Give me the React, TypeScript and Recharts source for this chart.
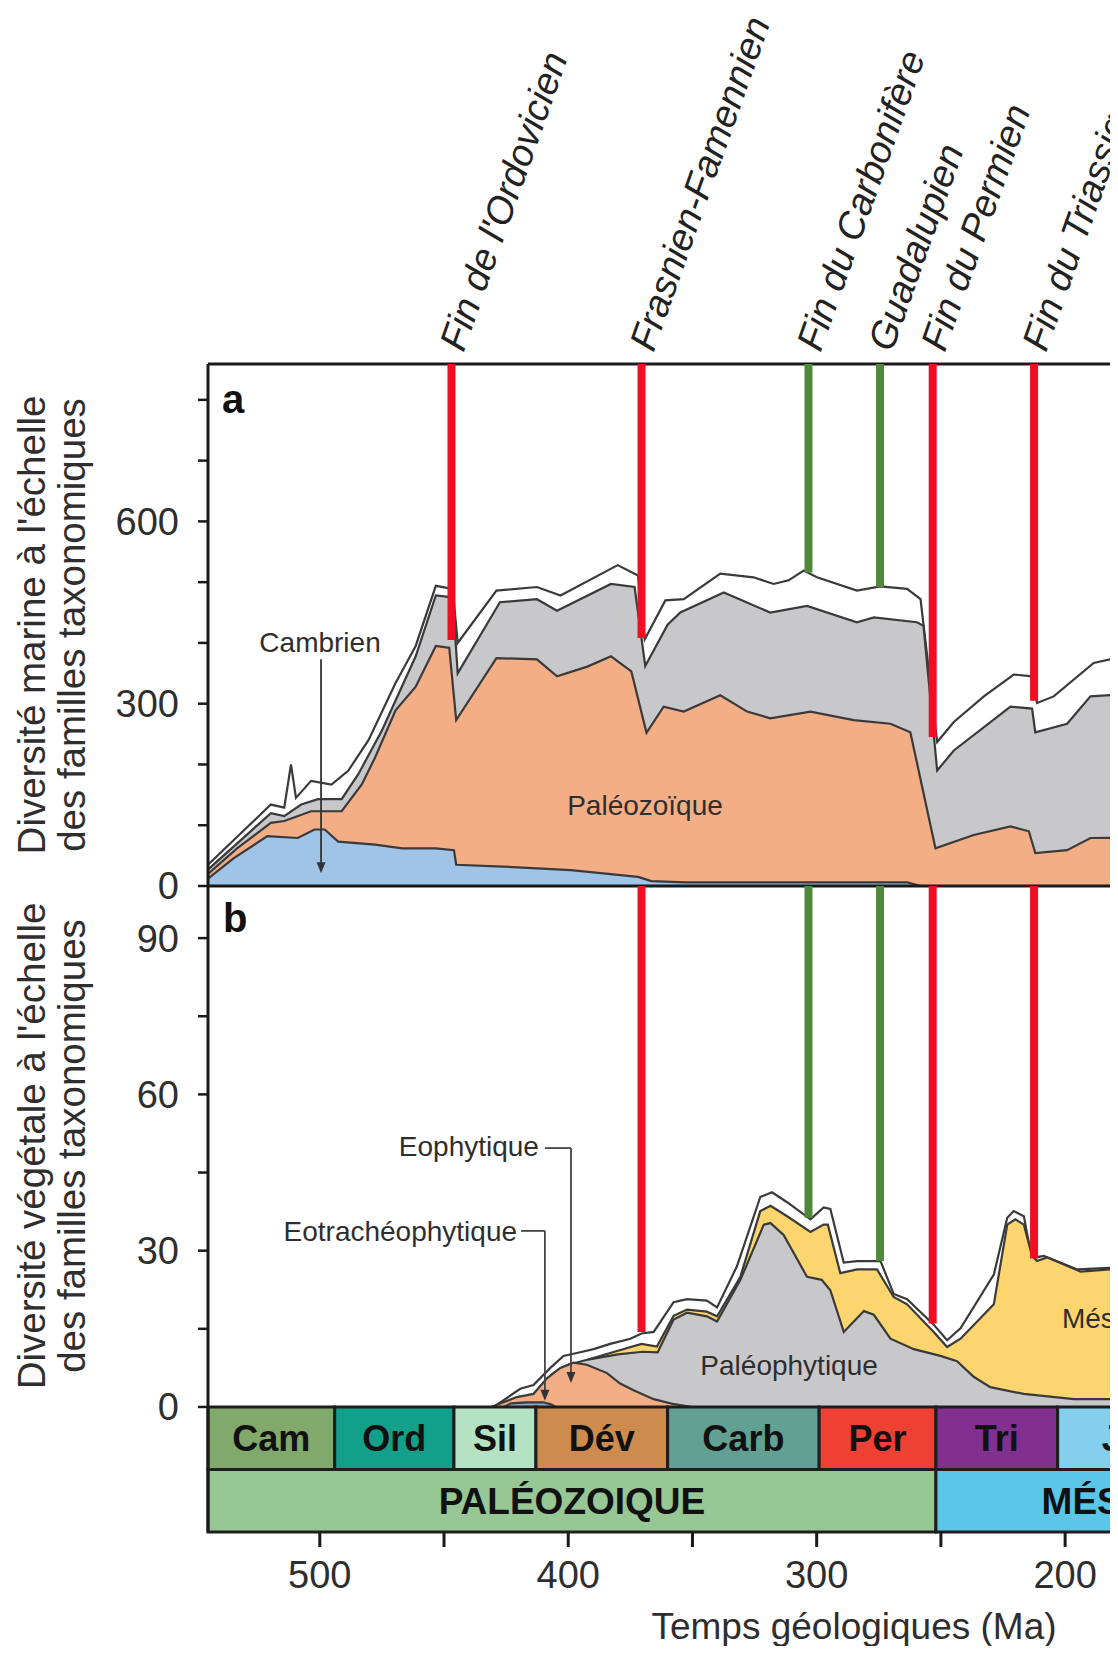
import React from 'react';
import {
  ComposedChart,
  Area,
  XAxis,
  YAxis,
  ReferenceLine,
  ReferenceArea,
  ReferenceDot,
} from 'recharts';

const FONT = '"Liberation Sans", Arial, Helvetica, sans-serif';
const RED = '#f20d22';
const GREEN = '#4f8a3b';
const OUTLINE = '#3a3a3a';
const TEXT = '#2e2e2e';

// ages in Ma, values = cumulative number of families (top of each layer)
const marineTotal = [
  [545, 35], [519.7, 134], [514.3, 129], [511.6, 200], [509.6, 145], [503.5, 173], [495.3, 167],
  [488.5, 190], [480.4, 240], [469.5, 334], [461.4, 395], [453.3, 494], [446.5, 489], [444.5, 400],
  [428.9, 486], [412.6, 492], [403.1, 478], [380.1, 528], [371.9, 511], [369.2, 406], [360.9, 470],
  [353.5, 472], [338.8, 514], [325.4, 508], [317.3, 497], [311.3, 503], [305.2, 519], [299.9, 508],
  [283.8, 486], [274.4, 493], [263.6, 489], [258.2, 472], [251.5, 237], [244.8, 270], [232.7, 312],
  [220.7, 348], [213.3, 345], [211.3, 301], [204.6, 312], [188.5, 367], [181.7, 373], [165, 380],
];
const marineModern = [
  [545, 27], [519.7, 120], [514.3, 115], [507.5, 134], [500.7, 143], [491.2, 143], [484.5, 184],
  [475, 256], [461.4, 378], [453.3, 478], [446.5, 475], [444.5, 350], [427.5, 467], [412.6, 472],
  [404.5, 453], [382.8, 497], [373.3, 492], [369, 362], [360, 430], [354.9, 450], [337.4, 483],
  [318.7, 450], [303.9, 461], [283.8, 434], [277, 442], [259.6, 434], [257, 428], [251.5, 190],
  [244.8, 223], [222, 295], [213.3, 292], [212, 253], [199.2, 267], [189.8, 312], [181.7, 314],
  [165, 318],
];
const marinePaleozoic = [
  [545, 20], [533.3, 62], [519.7, 104], [514.3, 107], [503.5, 123], [491.2, 123], [483.1, 167],
  [477.7, 212], [469.5, 289], [461.4, 328], [453.3, 395], [447.9, 392], [445.1, 273], [428.9, 375],
  [412.6, 373], [404.5, 345], [392.3, 361], [382.8, 378], [374.6, 353], [368.5, 252], [361.6, 295],
  [353.5, 287], [338.8, 314], [328, 287], [318.7, 276], [302.5, 287], [285.1, 273], [270.3, 267],
  [262.3, 253], [252.2, 62], [236.8, 84], [222, 98], [214.6, 90], [212, 54], [199.2, 59],
  [189.8, 79], [165, 80],
];
const marineCambrian = [
  [545, 12], [534.6, 46], [521.1, 82], [508.9, 79], [502.1, 93], [498, 93], [492.6, 73],
  [477.7, 68], [466.8, 62], [453.3, 62], [446, 59], [445.1, 35], [426.2, 32], [399, 26],
  [371.9, 15], [366.5, 8], [353, 6], [263.6, 6], [258, 0], [165, 0],
];

const plantTotal = [
  [430, 0], [419.3, 3.5], [414, 4.2], [407.2, 7.5], [401.9, 9.8], [395.2, 10.5], [389.8, 11.1],
  [383.1, 12.1], [375, 13.1], [370.5, 14.1], [365.6, 14.4], [357.6, 20.1], [352.2, 20.7],
  [344.2, 20.4], [340.1, 19.1], [332.1, 27], [322.7, 40.3], [318, 41.2], [311.9, 39.3],
  [302.5, 36], [297.2, 38.3], [294.5, 38], [289.1, 27.7], [283.7, 28], [274.3, 28], [269, 21.7],
  [263.6, 20.7], [252.9, 15.8], [247.5, 12.8], [242.1, 15.1], [228.7, 25.4], [223.3, 36.3],
  [220.7, 37.6], [216.6, 36.6], [213.9, 29.7], [211.9, 28.7], [208.6, 29], [195.1, 26.4],
  [181.7, 26.7], [165, 27],
];
const plantMeso = [
  [392, 9.1], [380, 10.8], [370.5, 12.1], [364.3, 11.6], [357.6, 17.5], [352.2, 18.7],
  [344.2, 18.3], [340.1, 17.4], [330.7, 25], [322.7, 37.6], [318.6, 38.6], [311.9, 36.6],
  [302.5, 33.6], [297.2, 35], [295.5, 35], [290.5, 25.7], [283.7, 26.4], [275.7, 26.4],
  [269, 21.1], [263.6, 19.7], [252.9, 14.4], [247.5, 11.5], [242.1, 13.1], [228.7, 19.7],
  [223.3, 35], [220, 36], [216.6, 35], [213.3, 29], [211.3, 28], [207.2, 28.7], [193.8, 26],
  [181.7, 26.4], [165, 26.8],
];
const plantPaleo = [
  [430, 0], [419, 1.5], [414, 2.5], [406, 6.5], [400, 8.1], [392, 9.1], [380, 10.1], [370, 10.6],
  [364, 10.5], [357.6, 16.8], [352.2, 18.1], [344.2, 17.4], [340.1, 16.4], [330.7, 24.4],
  [321.3, 35], [318.6, 35.3], [313.3, 33], [303.9, 25], [298, 24.4], [294.5, 22.4], [289.1, 14.4],
  [281, 18.4], [277, 17.7], [270.3, 13.1], [260.9, 11.1], [250.2, 9.8], [243.5, 8.8],
  [236.8, 5.8], [230.1, 3.8], [216.6, 2.5], [196.5, 1.5], [165, 1.5],
];
const plantEophytic = [
  [431, 0], [420.7, 1.9], [414, 2.5], [408.6, 5.5], [403.2, 7.5], [397.9, 8.5], [392.5, 8.1],
  [384.4, 6.5], [379.1, 4.5], [373.7, 3.2], [365.6, 1.5], [358, 0.6], [350, 0],
];
const plantEotrach = [
  [426, 0], [423, 0.7], [417, 0.9], [410, 0.9], [407, 0.5], [405, 0],
];

// extinction events: age, colour, where the bar meets the curves in a and b
const events = [
  { name: "Fin de l'Ordovicien", ma: 447, color: RED, endA: 405, endB: null },
  { name: 'Frasnien-Famennien', ma: 370.5, color: RED, endA: 408, endB: 14.4 },
  { name: 'Fin du Carbonifère', ma: 303.3, color: GREEN, endA: 516, endB: 36.3 },
  { name: 'Guadalupien', ma: 274.5, color: GREEN, endA: 492, endB: 28 },
  { name: 'Fin du Permien', ma: 253.3, color: RED, endA: 245, endB: 16 },
  { name: 'Fin du Triassique', ma: 212.5, color: RED, endA: 305, endB: 28.5 },
];

const periods = [
  { name: 'Cam', from: 545, to: 494, color: '#80a96b' },
  { name: 'Ord', from: 494, to: 446, color: '#13a08a' },
  { name: 'Sil', from: 446, to: 413, color: '#b4e2c3' },
  { name: 'Dév', from: 413, to: 360, color: '#cd8c4d' },
  { name: 'Carb', from: 360, to: 299, color: '#61a092' },
  { name: 'Per', from: 299, to: 252, color: '#f03f33' },
  { name: 'Tri', from: 252, to: 203, color: '#81308f' },
  { name: 'Jur', from: 203, to: 145, color: '#84cfee' },
  { name: 'Cré', from: 145, to: 66, color: '#8fcf6a' },
];
const eras = [
  { name: 'PALÉOZOIQUE', from: 545, to: 252, color: '#96c794' },
  { name: 'MÉSOZOIQUE', from: 252, to: 66, color: '#5ac7e8' },
];

const timeTicks = [500, 450, 400, 350, 300, 250, 200, 150, 100, 50, 0];
const marineTicks = [0, 100, 200, 300, 400, 500, 600, 700, 800];
const plantTicks = [0, 15, 30, 45, 60, 75, 90];

const toPts = (rows: number[][]) => rows.map(([ma, v]) => ({ ma, v }));

const W = 1562;
const MA_DOMAIN: [number, number] = [0, 545];
const A_MAX = 859;
const B_MAX = 100;
// the time-scale rows sit below zero on the plant panel's value scale
const ROW = 12;

const yTitle = (lines: string[], centerOffset = 0) => (props: any) => {
  const vb = props.viewBox || { x: 0, y: 0, width: 0, height: 0 };
  const cy = vb.y + vb.height / 2 + centerOffset;
  return (
    <g>
      {lines.map((t, i) => (
        <text
          key={i}
          transform={`translate(${45 + i * 40},${cy}) rotate(-90)`}
          textAnchor="middle"
          fontSize={38.5}
          fill={TEXT}
          fontFamily={FONT}
        >
          {t}
        </text>
      ))}
    </g>
  );
};

const eventLabel = (text: string) => (props: any) => {
  const vb = props.viewBox || { x: 0, y: 0 };
  return (
    <text
      transform={`translate(${vb.x + 12},${vb.y - 11}) rotate(-70.5)`}
      fontSize={38}
      fontStyle="italic"
      fill="#222"
      fontFamily={FONT}
    >
      {text}
    </text>
  );
};

const boxLabel = (text: string, size: number) => (props: any) => {
  const vb = props.viewBox || { x: 0, y: 0, width: 0, height: 0 };
  return (
    <text
      x={vb.x + vb.width / 2}
      y={vb.y + vb.height / 2 + size * 0.36}
      textAnchor="middle"
      fontSize={size}
      fontWeight="bold"
      fill="#111"
      fontFamily={FONT}
    >
      {text}
    </text>
  );
};

const note = (text: string, anchor: string, size = 28, bold = false, dx = 0, dy = 0) => (props: any) => {
  const vb = props.viewBox || { x: 0, y: 0 };
  return (
    <text
      x={vb.x + dx}
      y={vb.y + dy}
      textAnchor={anchor as any}
      fontSize={size}
      fontWeight={bold ? 'bold' : 'normal'}
      fill={bold ? '#111' : TEXT}
      fontFamily={FONT}
    >
      {text}
    </text>
  );
};

const arrowHead = (p: any) => (
  <path d={`M${p.cx - 4.5},${p.cy - 11}L${p.cx + 4.5},${p.cy - 11}L${p.cx},${p.cy}Z`} fill="#333" />
);

const areaProps = {
  type: 'linear' as const,
  dataKey: 'v',
  stroke: OUTLINE,
  strokeWidth: 2.2,
  fillOpacity: 1,
  baseValue: 0,
  dot: false,
  activeDot: false,
  isAnimationActive: false,
};

const axisLine = { stroke: '#1a1a1a', strokeWidth: 3 };
const tickLine = { stroke: '#1a1a1a', strokeWidth: 2.5 };
const tickFont = { fontSize: 38, fill: TEXT, fontFamily: FONT };

const marineLayers = [
  { key: 'total', data: marineTotal, fill: '#ffffff' },
  { key: 'modern', data: marineModern, fill: '#c8c8ca' },
  { key: 'paleo', data: marinePaleozoic, fill: '#f3ae86' },
  { key: 'camb', data: marineCambrian, fill: '#9fc4e7' },
];
const plantLayers = [
  { key: 'total', data: plantTotal, fill: '#ffffff' },
  { key: 'meso', data: plantMeso, fill: '#fcd56f' },
  { key: 'paleo', data: plantPaleo, fill: '#c8c8ca' },
  { key: 'eo', data: plantEophytic, fill: '#f3ae86' },
  { key: 'eotr', data: plantEotrach, fill: '#86a6c8' },
];

const MarinePanel = () => (
  <ComposedChart width={W} height={910} margin={{ top: 364, right: 0, bottom: 24, left: 0 }}>
    <XAxis
      type="number"
      dataKey="ma"
      domain={MA_DOMAIN}
      reversed
      allowDataOverflow
      tick={false}
      tickLine={false}
      axisLine={axisLine}
      height={0}
    />
    <YAxis
      type="number"
      domain={[0, A_MAX]}
      allowDataOverflow
      ticks={marineTicks}
      interval={0}
      tickFormatter={(v: number) => (v % 300 === 0 ? String(v) : '')}
      tick={tickFont}
      tickLine={tickLine}
      axisLine={axisLine}
      tickSize={10}
      tickMargin={19}
      width={208}
      label={yTitle(["Diversité marine à l'échelle", 'des familles taxonomiques'])}
    />
    {marineLayers.map((l) => (
      <Area key={l.key} {...areaProps} data={toPts(l.data)} fill={l.fill} />
    ))}
    <ReferenceLine y={A_MAX} stroke="#1a1a1a" strokeWidth={3} />
    {events.map((e) => (
      <ReferenceLine
        key={e.name}
        segment={[{ x: e.ma, y: e.endA }, { x: e.ma, y: A_MAX }]}
        stroke={e.color}
        strokeWidth={8}
        label={eventLabel(e.name)}
      />
    ))}
    <ReferenceDot x={545} y={A_MAX} r={0} label={note('a', 'start', 40, true, 14, 49)} />
    <ReferenceDot x={499.9} y={385} r={0} label={note('Cambrien', 'middle')} />
    <ReferenceLine segment={[{ x: 499.5, y: 373 }, { x: 499.5, y: 30 }]} stroke="#333" strokeWidth={1.8} />
    <ReferenceDot x={499.5} y={21} r={4} shape={arrowHead} />
    <ReferenceDot x={369.1} y={117} r={0} label={note('Paléozoïque', 'middle')} />
  </ComposedChart>
);

const PlantPanel = () => (
  <ComposedChart width={W} height={774} margin={{ top: 6, right: 0, bottom: 0, left: 0 }}>
    <XAxis
      type="number"
      dataKey="ma"
      domain={MA_DOMAIN}
      reversed
      allowDataOverflow
      ticks={timeTicks}
      interval={0}
      tickFormatter={(v: number) => (v % 100 === 0 ? String(v) : '')}
      tick={tickFont}
      tickLine={{ stroke: '#1a1a1a', strokeWidth: 3 }}
      axisLine={false}
      tickSize={15}
      tickMargin={14}
      height={122}
      label={(props: any) => {
        const vb = props.viewBox || { x: 208, y: 652 };
        return (
          <text x={vb.x + 646} y={vb.y + 107} textAnchor="middle" fontSize={37} fill={TEXT} fontFamily={FONT}>
            Temps géologiques (Ma)
          </text>
        );
      }}
    />
    <YAxis
      type="number"
      domain={[-2 * ROW, B_MAX]}
      allowDataOverflow
      ticks={plantTicks}
      interval={0}
      tickFormatter={(v: number) => (v % 30 === 0 ? String(v) : '')}
      tick={tickFont}
      tickLine={tickLine}
      axisLine={axisLine}
      tickSize={10}
      tickMargin={19}
      width={208}
      label={yTitle(["Diversité végétale à l'échelle", 'des familles taxonomiques'], -63)}
    />
    {plantLayers.map((l) => (
      <Area key={l.key} {...areaProps} data={toPts(l.data)} fill={l.fill} />
    ))}
    <ReferenceLine y={B_MAX} stroke="#1a1a1a" strokeWidth={3} />
    {events
      .filter((e) => e.endB !== null)
      .map((e) => (
        <ReferenceLine
          key={e.name}
          segment={[{ x: e.ma, y: e.endB as number }, { x: e.ma, y: B_MAX }]}
          stroke={e.color}
          strokeWidth={8}
        />
      ))}
    {eras.map((e) => (
      <ReferenceArea
        key={e.name}
        x1={e.from}
        x2={e.to}
        y1={-2 * ROW}
        y2={-ROW}
        fill={e.color}
        fillOpacity={1}
        stroke="#1e1e1e"
        strokeWidth={3}
        ifOverflow="visible"
        label={boxLabel(e.name, 37)}
      />
    ))}
    {periods.map((p) => (
      <ReferenceArea
        key={p.name}
        x1={p.from}
        x2={p.to}
        y1={-ROW}
        y2={0}
        fill={p.color}
        fillOpacity={1}
        stroke="#1e1e1e"
        strokeWidth={3}
        ifOverflow="visible"
        label={boxLabel(p.name, 36)}
      />
    ))}
    <ReferenceDot x={545} y={B_MAX} r={0} label={note('b', 'start', 40, true, 15, 46)} />
    <ReferenceDot x={411.8} y={48.2} r={0} label={note('Eophytique', 'end')} />
    <ReferenceLine segment={[{ x: 409.4, y: 49.7 }, { x: 398.9, y: 49.7 }]} stroke="#444" strokeWidth={1.8} />
    <ReferenceLine segment={[{ x: 398.9, y: 49.7 }, { x: 398.9, y: 6.5 }]} stroke="#444" strokeWidth={1.8} />
    <ReferenceDot x={398.9} y={4.6} r={4} shape={arrowHead} />
    <ReferenceDot x={420.6} y={31.9} r={0} label={note('Eotrachéophytique', 'end')} />
    <ReferenceLine segment={[{ x: 419.0, y: 33.8 }, { x: 409.4, y: 33.8 }]} stroke="#444" strokeWidth={1.8} />
    <ReferenceLine segment={[{ x: 409.4, y: 33.8 }, { x: 409.4, y: 2.6 }]} stroke="#444" strokeWidth={1.8} />
    <ReferenceDot x={409.4} y={1.2} r={4} shape={arrowHead} />
    <ReferenceDot x={311.1} y={6.1} r={0} label={note('Paléophytique', 'middle')} />
    <ReferenceDot x={201.3} y={15.2} r={0} label={note('Mésophytique', 'start')} />
  </ComposedChart>
);

export default function App() {
  return (
    <div
      style={{
        position: 'relative',
        width: 1118,
        height: 1654,
        margin: -8,
        overflow: 'hidden',
        background: '#fff',
        fontFamily: FONT,
      }}
    >
      <div style={{ position: 'absolute', left: 0, top: 0 }}>
        <MarinePanel />
      </div>
      <div style={{ position: 'absolute', left: 0, top: 880 }}>
        <PlantPanel />
      </div>
    </div>
  );
}
